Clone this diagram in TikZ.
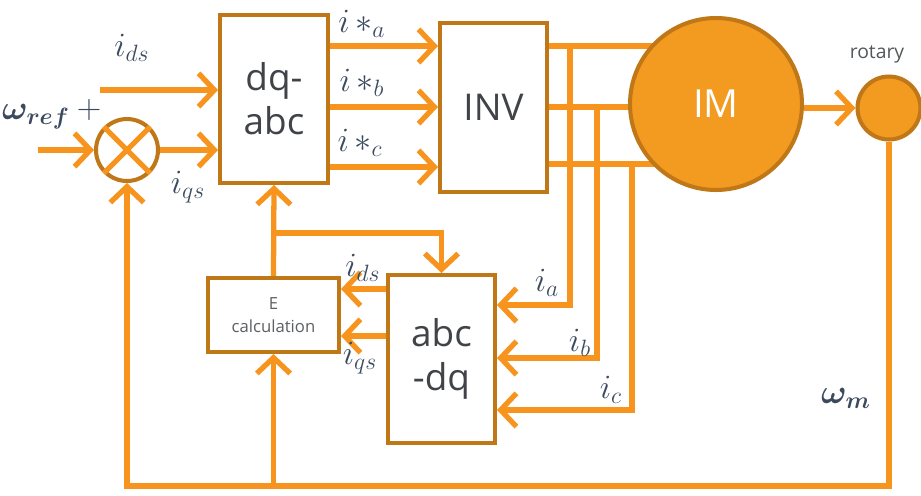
\documentclass[tikz,border=0pt]{standalone}
\usepackage{amsmath,bm,graphicx}
\usepackage{fontspec}
\newfontfamily\blockfont{Open Sans}
\usepackage{tikz}
\usetikzlibrary{arrows.meta,positioning,calc,backgrounds}
\definecolor{DriveOrange}{HTML}{F7941D}
\definecolor{DriveBrown}{HTML}{BF7717}
\definecolor{DriveFill}{HTML}{F39A21}
\definecolor{DriveText}{HTML}{404448}
\definecolor{DriveLabel}{HTML}{3B4A5E}
\newcommand{\curlbl}[1]{\scalebox{1.12}{$#1$}}

\tikzset{
  wire/.style={DriveOrange, line width=3pt},
  arr/.style={wire, -{Straight Barb[length=9pt,width=19pt,line width=3pt]}},
  blk/.style={draw=DriveBrown, line width=2.3pt, fill=white, text=DriveText,
    align=center, inner sep=0pt, font=\blockfont\fontsize{21}{25}\selectfont},
  lbl/.style={text=DriveLabel, inner sep=0pt, font=\fontsize{17}{20}\selectfont},
}

\begin{document}
\begin{tikzpicture}[x=0.02cm,y=-0.02cm]
  \useasboundingbox (0,0) rectangle (921,495);

  % Blocks
  \node[blk, minimum width=2.16cm, minimum height=3.36cm] (dqabc) at (274,99) {dq-\\abc};
  \node[blk, minimum width=2.14cm, minimum height=3.38cm] (inv) at (493.5,107.5) {INV};
  \node[blk, minimum width=2.14cm, minimum height=3.36cm] (abcdq) at (441.5,359) {abc\\-dq};
  \node[blk, minimum width=2.62cm, minimum height=1.48cm,
        font=\blockfont\fontsize{9.5}{13}\selectfont, text=DriveText!85] (ecalc) at (273.5,315) {E\\calculation};

  % Summing junction
  \node[circle, draw=DriveBrown, line width=2.3pt, fill=white, minimum size=1.24cm] (sum) at (127,150) {};
  \draw[DriveOrange, line width=3pt] (sum.45) -- (sum.225) (sum.135) -- (sum.315);

  % Motor and rotary sensor
  \node[circle, draw=DriveBrown, line width=2.3pt, fill=DriveFill, minimum size=3.44cm,
        text=white, font=\blockfont\fontsize{22}{26}\selectfont] (im) at (716,104) {IM};
  \node[circle, draw=DriveBrown, line width=2.3pt, fill=DriveFill, minimum size=1.26cm] (rot) at (889,108) {};
  \node[text=DriveText!90, inner sep=0pt, font=\blockfont\fontsize{11}{13}\selectfont] (rotlbl) at (877,54) {rotary};

  % Inputs
  \coordinate (wref) at (38,150);
  \coordinate (idsin) at (100,90);
  \draw[arr] (wref) -- (sum.west);
  \draw[arr] (idsin) -- (idsin -| dqabc.west);
  \draw[arr] (sum.east) -- (sum.east -| dqabc.west);

  % Reference currents
  \draw[arr] (dqabc.east |- 0,46) -- (inv.west |- 0,46);
  \draw[arr] (dqabc.east |- 0,107) -- (inv.west |- 0,107);
  \draw[arr] (dqabc.east |- 0,167) -- (inv.west |- 0,167);

  % Phase lines to the motor
  \begin{scope}[on background layer]
    \draw[wire] (inv.east |- 0,46) -- (im.center |- 0,46);
    \draw[wire] (inv.east |- 0,107) -- (im.center |- 0,107);
    \draw[wire] (inv.east |- 0,164) -- (im.center |- 0,164);
  \end{scope}
  \draw[arr] (im.east |- rot.west) -- (rot.west);

  % Current measurement
  \coordinate (ta) at (570,46);
  \coordinate (tb) at (597,107);
  \coordinate (tc) at (632,164);
  \draw[arr] (ta) |- (abcdq.east |- 0,305);
  \draw[arr] (tb) |- (abcdq.east |- 0,358);
  \draw[arr] (tc) |- (abcdq.east |- 0,410);

  % abc-dq to E calculation
  \draw[arr] (abcdq.west |- 0,289) -- (ecalc.east |- 0,289);
  \draw[arr] (abcdq.west |- 0,336) -- (ecalc.east |- 0,336);

  % E calculation output
  \coordinate (br) at (ecalc.north |- 0,233);
  \draw[arr] (ecalc.north) -- (dqabc.south);
  \draw[arr] (br) -| (abcdq.north);

  % Speed feedback
  \coordinate (fb) at (sum.south |- 0,486);
  \draw[arr] (rot.south) |- (fb) -- (sum.south);
  \draw[arr] (ecalc.south |- fb) -- (ecalc.south);

  % Labels
  \node[lbl] (lids) at (132,48) {\curlbl{i_{ds}}};
  \node[lbl] (lwref) at (36,117) {\curlbl{\bm{\omega}_{\bm{ref}}}};
  \node[lbl] (lplus) at (89,110) {\curlbl{+}};
  \node[lbl] (liqs) at (188,187) {\curlbl{i_{qs}}};
  \node[lbl] (lia) at (362,24) {\curlbl{i\,{*}_{a}}};
  \node[lbl] (lib) at (362,83) {\curlbl{i\,{*}_{b}}};
  \node[lbl] (lic) at (360,143) {\curlbl{i\,{*}_{c}}};
  \node[lbl] (lfds) at (363,268) {\curlbl{i_{ds}}};
  \node[lbl] (lfqs) at (360,358) {\curlbl{i_{qs}}};
  \node[lbl] (lma) at (547,283) {\curlbl{i_{a}}};
  \node[lbl] (lmb) at (580,343) {\curlbl{i_{b}}};
  \node[lbl] (lmc) at (611,390) {\curlbl{i_{c}}};
  \node[lbl] (lwm) at (846,398) {\curlbl{\bm{\omega}_{\bm{m}}}};
\end{tikzpicture}
\end{document}
